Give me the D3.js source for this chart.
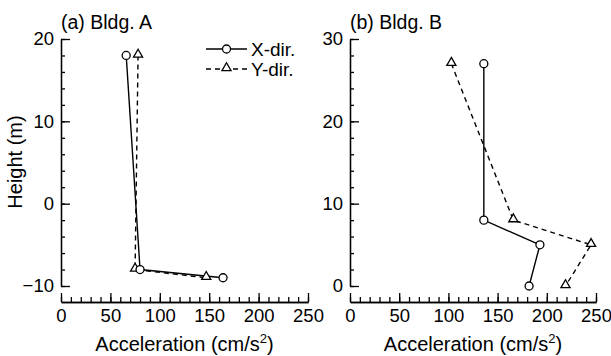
<!DOCTYPE html>
<head>
<meta charset="utf-8">
<style>
body { margin: 0; background: #fff; }
svg { font-family: "Liberation Sans", Arial, sans-serif; }
.axis path, .axis line { stroke: #000; stroke-width: 1.3px; }
.axis text { font-size: 18.5px; fill: #000; font-family: "Liberation Sans", Arial, sans-serif; }
.line { fill: none; stroke: #000; stroke-width: 1.4px; }
.dash { stroke-dasharray: 5,4; }
.mark { fill: #fff; stroke: #000; stroke-width: 1.3px; }
</style>
<script src="https://cdn.jsdelivr.net/npm/d3@7"></script>
</head>
<body>
<svg id="chart" width="611" height="356"></svg>
<script>

// Bldg. A : heights (m) and peak accelerations (cm/s2)
var heightsA = [18, -8, -9];
var accXA = [66, 80, 164];
var accYA = [78, 75, 147];

// Bldg. B
var heightsB = [27, 8, 5, 0];
var accXB = [136, 136, 193, 182];
var accYB = [103, 166, 245, 219];

var xTicks = [0, 50, 100, 150, 200, 250];
var yTicksA = [-10, 0, 10, 20];
var yTicksB = [0, 10, 20, 30];

var svg = d3.select("#chart");

/**
 * Draw one panel with its axes, lines and markers.
 */
function drawPanel(opt) {
  var x = d3.scaleLinear().domain([0, 250]).range([opt.left, opt.right]);
  var y = d3.scaleLinear().domain(opt.yDomain).range([286, 39]);
  var g = svg.append("g");

  // minor ticks first, then the major axis on top
  g.append("g").attr("class", "axis")
    .attr("transform", "translate(0,302)")
    .call(d3.axisBottom(x).tickValues(d3.range(0, 251, 10)).tickSize(-5).tickSizeOuter(0).tickFormat(""));
  g.append("g").attr("class", "axis")
    .attr("transform", "translate(0,302)")
    .call(d3.axisBottom(x).tickValues(xTicks).tickSize(-9).tickSizeOuter(0).tickPadding(7));

  g.append("g").attr("class", "axis")
    .attr("transform", "translate(" + opt.left + ",0)")
    .call(d3.axisLeft(y).tickValues(d3.range(opt.yDomain[0], opt.yDomain[1] + 1, 2)).tickSize(-4).tickSizeOuter(0).tickFormat(""));
  g.append("g").attr("class", "axis")
    .attr("transform", "translate(" + opt.left + ",0)")
    .call(d3.axisLeft(y).tickValues(opt.yTicks).tickSize(-9).tickSizeOuter(0).tickPadding(7));

  // panel title
  g.append("text")
    .attr("x", opt.left).attr("y", 29)
    .attr("font-size", "19.5px")
    .text(opt.title);

  // x axis caption with superscript
  var cap = g.append("text")
    .attr("x", (opt.left + opt.right) / 2).attr("y", 351)
    .attr("text-anchor", "middle")
    .attr("font-size", "20px");
  cap.append("tspan").text("Acceleration (cm/s");
  cap.append("tspan").attr("dy", "-8").attr("font-size", "13px").text("2");
  cap.append("tspan").attr("dy", "8").text(")");

  var line = d3.line()
    .x(function(d) { return x(d[0]); })
    .y(function(d) { return y(d[1]); });

  var dataX = d3.zip(opt.accX, opt.heights);
  var dataY = d3.zip(opt.accY, opt.heights);

  g.append("path").datum(dataY).attr("class", "line dash").attr("d", line);
  g.append("path").datum(dataX).attr("class", "line").attr("d", line);

  var tri = d3.symbol().type(d3.symbolTriangle).size(36);
  g.selectAll(".tri").data(dataY).enter().append("path")
    .attr("class", "mark")
    .attr("d", tri)
    .attr("transform", function(d) { return "translate(" + x(d[0]) + "," + (y(d[1]) - 1) + ")"; });
  g.selectAll(".circ").data(dataX).enter().append("circle")
    .attr("class", "mark")
    .attr("r", 4)
    .attr("cx", function(d) { return x(d[0]); })
    .attr("cy", function(d) { return y(d[1]); });
}

drawPanel({left: 61, right: 308, yDomain: [-10, 20], yTicks: yTicksA,
  title: "(a) Bldg. A", heights: heightsA, accX: accXA, accY: accYA});
drawPanel({left: 350, right: 596, yDomain: [0, 30], yTicks: yTicksB,
  title: "(b) Bldg. B", heights: heightsB, accX: accXB, accY: accYB});

// y axis caption
svg.append("text")
  .attr("transform", "translate(22,162) rotate(-90)")
  .attr("text-anchor", "middle")
  .attr("font-size", "20px")
  .text("Height (m)");

// legend
var legend = svg.append("g");
legend.append("line").attr("class", "line").attr("x1", 206).attr("x2", 247).attr("y1", 49).attr("y2", 49);
legend.append("circle").attr("class", "mark").attr("r", 4).attr("cx", 226.5).attr("cy", 49);
legend.append("text").attr("x", 251).attr("y", 49).attr("dy", "0.35em").attr("font-size", "19px").text("X-dir.");
legend.append("line").attr("class", "line dash").attr("x1", 206).attr("x2", 247).attr("y1", 69).attr("y2", 69);
legend.append("path").attr("class", "mark").attr("d", d3.symbol().type(d3.symbolTriangle).size(36))
  .attr("transform", "translate(226.5,68)");
legend.append("text").attr("x", 251).attr("y", 69).attr("dy", "0.35em").attr("font-size", "19px").text("Y-dir.");

</script>
</body>
